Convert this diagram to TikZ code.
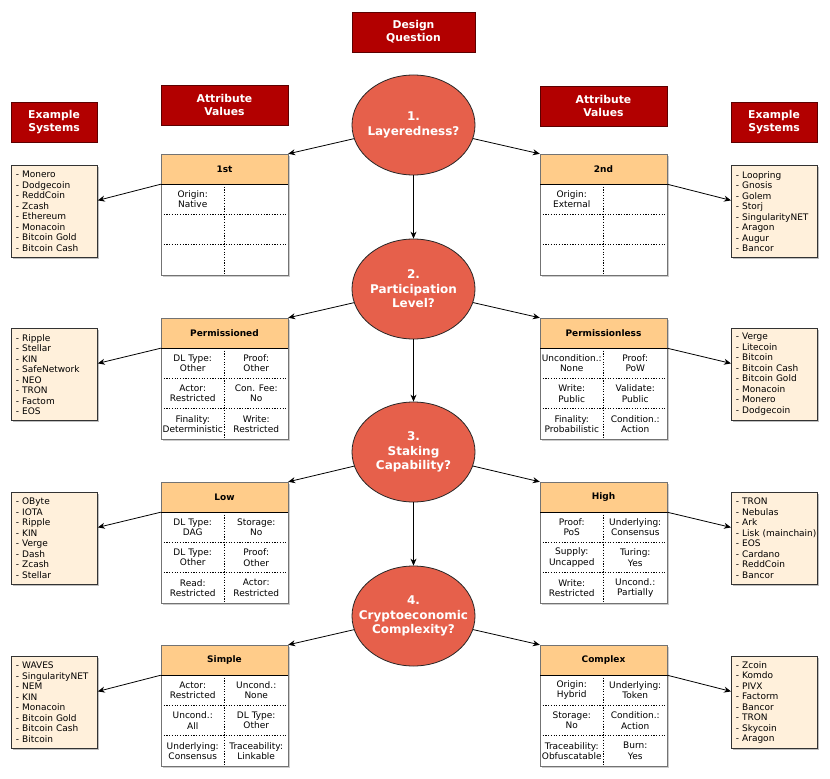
\documentclass[tikz,border=0pt]{standalone}
\usepackage{fontspec}
\setmainfont{DejaVu Sans}
\usetikzlibrary{arrows.meta,shapes.geometric,calc,shadows}
\definecolor{hdrred}{HTML}{B20000}
\definecolor{hdrline}{HTML}{5C0000}
\definecolor{ellfill}{HTML}{E6604B}
\definecolor{theadfill}{HTML}{FFCC8A}
\definecolor{exfill}{HTML}{FFF0DB}
\tikzset{
 hdr/.style={draw=hdrline, fill=hdrred, text=white, font=\bfseries\fontsize{10.8bp}{13bp}\selectfont, align=center, minimum height=40bp, inner sep=0pt, line width=0.8bp},
 q/.style={ellipse, draw=black!85, fill=ellfill, minimum width=123bp, minimum height=100bp, inner sep=0pt, line width=0.8bp},
 qtext/.style={text=white, font=\bfseries\fontsize{12bp}{14.5bp}\selectfont, align=center, inner sep=0pt},
 thead/.style={fill=theadfill, font=\bfseries\fontsize{9bp}{10.5bp}\selectfont, minimum width=127bp, minimum height=30bp, inner sep=0pt},
 cell/.style={font=\fontsize{9bp}{10.3bp}\selectfont, align=center, inner sep=0pt},
 ex/.style={draw=black!80, fill=exfill, font=\fontsize{9bp}{10.5bp}\selectfont, align=left, minimum width=86bp, minimum height=92bp, text width=77bp, inner xsep=4.5bp, inner ysep=0pt, anchor=north west, line width=0.8bp, drop shadow={shadow xshift=1.5bp, shadow yshift=-1.5bp, opacity=0.25, fill=black}},
 arr/.style={-{Stealth[length=7bp,width=6bp]}, line width=0.8bp},
 sep/.style={dash pattern=on 1.2bp off 1.5bp, line width=0.6bp},
}
\newcommand{\attrtable}[9]{%
 \begin{scope}[shift={#2}]
  \fill[black, opacity=0.2] (1.5,1.5) rectangle (128.5,122.5);
  \fill[white] (0,0) rectangle (127,121);
  \node[thead] (#1) at (63.5,15) {#3};
  \node[cell] (#1-a) at (31.75,45.17) {#4};
  \node[cell] (#1-b) at (95.25,45.17) {#5};
  \node[cell] (#1-c) at (31.75,75.5) {#6};
  \node[cell] (#1-d) at (95.25,75.5) {#7};
  \node[cell] (#1-e) at (31.75,105.83) {#8};
  \node[cell] (#1-f) at (95.25,105.83) {#9};
  \draw[sep] (63.5,30) -- (63.5,121);
  \draw[sep] (0,60.33) -- (127,60.33);
  \draw[sep] (0,90.67) -- (127,90.67);
  \draw[line width=0.8bp, black!55] (0,0) rectangle (127,121);
  \draw[line width=0.8bp] (0,30) -- (127,30);
 \end{scope}}
\begin{document}
\begin{tikzpicture}[x=1bp,y=-1bp]
\useasboundingbox (0,0) rectangle (830,779);
\fill[white] (0,0) rectangle (830,779);
% headers
\node[hdr, minimum width=123bp] (hq) at (413.5,32) {Design\\Question};
\node[hdr, minimum width=127bp] (hal) at (224.5,105) {Attribute\\Values};
\node[hdr, minimum width=127bp] (har) at (603.5,106) {Attribute\\Values};
\node[hdr, minimum width=86bp] (hel) at (54,122) {Example\\Systems};
\node[hdr, minimum width=86bp] (her) at (774,122) {Example\\Systems};
% questions
\node[q] (q1) at (413.5,125) {};
\node[q] (q2) at (413.5,289) {};
\node[q] (q3) at (413.5,452) {};
\node[q] (q4) at (413.5,616) {};
\node[qtext] (q1t) at (q1.center) {1.\\Layeredness?};
\node[qtext] (q2t) at (q2.center) {2.\\Participation\\Level?};
\node[qtext] (q3t) at (q3.center) {3.\\Staking\\Capability?};
\node[qtext] (q4t) at (q4.center) {4.\\Cryptoeconomic\\Complexity?};
% tables
\attrtable{t1l}{(161,154)}{1st}{Origin:\\Native}{}{}{}{}{}
\attrtable{t1r}{(540,154)}{2nd}{Origin:\\External}{}{}{}{}{}
\attrtable{t2l}{(161,318)}{Permissioned}{DL Type:\\Other}{Proof:\\Other}{Actor:\\Restricted}{Con. Fee:\\No}{Finality:\\Deterministic}{Write:\\Restricted}
\attrtable{t2r}{(540,318)}{Permissionless}{Uncondition.:\\None}{Proof:\\PoW}{Write:\\Public}{Validate:\\Public}{Finality:\\Probabilistic}{Condition.:\\Action}
\attrtable{t3l}{(161,482)}{Low}{DL Type:\\DAG}{Storage:\\No}{DL Type:\\Other}{Proof:\\Other}{Read:\\Restricted}{Actor:\\Restricted}
\attrtable{t3r}{(540,482)}{High}{Proof:\\PoS}{Underlying:\\Consensus}{Supply:\\Uncapped}{Turing:\\Yes}{Write:\\Restricted}{Uncond.:\\Partially}
\attrtable{t4l}{(161,645)}{Simple}{Actor:\\Restricted}{Uncond.:\\None}{Uncond.:\\All}{DL Type:\\Other}{Underlying:\\Consensus}{Traceability:\\Linkable}
\attrtable{t4r}{(540,645)}{Complex}{Origin:\\Hybrid}{Underlying:\\Token}{Storage:\\No}{Condition.:\\Action}{Traceability:\\Obfuscatable}{Burn:\\Yes}
% example systems
\node[ex] (e1l) at (11,165) {- Monero\\- Dodgecoin\\- ReddCoin\\- Zcash\\- Ethereum\\- Monacoin\\- Bitcoin Gold\\- Bitcoin Cash};
\node[ex] (e1r) at (731,165) {- Loopring\\- Gnosis\\- Golem\\- Storj\\- SingularityNET\\- Aragon\\- Augur\\- Bancor};
\node[ex] (e2l) at (11,328) {- Ripple\\- Stellar\\- KIN\\- SafeNetwork\\- NEO\\- TRON\\- Factom\\- EOS};
\node[ex] (e2r) at (731,328) {- Verge\\- Litecoin\\- Bitcoin\\- Bitcoin Cash\\- Bitcoin Gold\\- Monacoin\\- Monero\\- Dodgecoin};
\node[ex] (e3l) at (11,492) {- OByte\\- IOTA\\- Ripple\\- KIN\\- Verge\\- Dash\\- Zcash\\- Stellar};
\node[ex] (e3r) at (731,492) {- TRON\\- Nebulas\\- Ark\\\mbox{- Lisk (mainchain)}\\- EOS\\- Cardano\\- ReddCoin\\- Bancor};
\node[ex] (e4l) at (11,656) {- WAVES\\- SingularityNET\\- NEM\\- KIN\\- Monacoin\\- Bitcoin Gold\\- Bitcoin Cash\\- Bitcoin};
\node[ex] (e4r) at (731,656) {- Zcoin\\- Komdo\\- PIVX\\- Factorm\\- Bancor\\- TRON\\- Skycoin\\- Aragon};
% connectors
\draw[arr] (q1) -- (q2);
\draw[arr] (q2) -- (q3);
\draw[arr] (q3) -- (q4);
\foreach \i in {1,2,3,4}{
  \draw[arr] (q\i) -- (t\i l.north east);
  \draw[arr] (q\i) -- (t\i r.north west);
  \draw[arr] (t\i l.south west) -- ([yshift=11bp]e\i l.east);
  \draw[arr] (t\i r.south east) -- ([yshift=11bp]e\i r.west);
}
\end{tikzpicture}
\end{document}
